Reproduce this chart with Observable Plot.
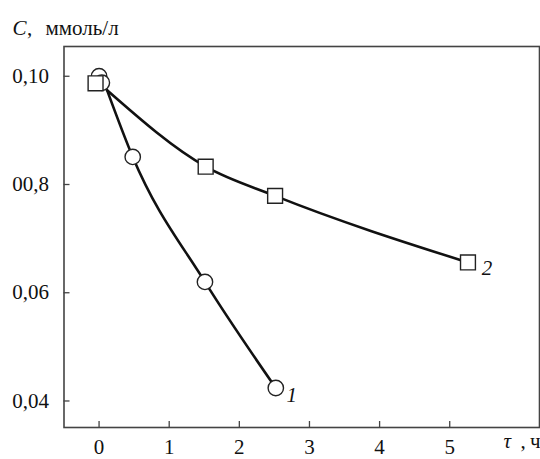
<!DOCTYPE html>
<html>
<head>
<meta charset="utf-8">
<script src="https://cdn.jsdelivr.net/npm/d3@7"></script>
<script src="https://cdn.jsdelivr.net/npm/@observablehq/plot@0.6"></script>
<style>
  html, body { margin: 0; padding: 0; background: #fff; }
  #chart svg { display: block; }
  #chart svg, #chart svg text, #chart svg g {
    font-family: "Liberation Serif", "DejaVu Serif", serif !important;
    font-size: 21px !important;
  }
</style>
</head>
<body>
<div id="chart"></div>
<script>
// Series 1 (circles)
const circleX = [0, 0.04, 0.48, 1.51, 2.52];
const circleY = [0.1000, 0.0988, 0.0851, 0.0620, 0.0424];
// Series 2 (squares)
const squareX = [-0.05, 1.52, 2.51, 5.26];
const squareY = [0.0987, 0.0833, 0.0779, 0.0656];
// Common start point of both curves
const startX = 0.115;
const startY = 0.0974;
// Series labels
const seriesLabels = ["1", "2"];
// Ticks
const xTicks = [0, 1, 2, 3, 4, 5];
const yTicks = [0.04, 0.06, 0.08, 0.10];
const yTickLabels = ["0,04", "0,06", "00,8", "0,10"];

const circles = circleX.map((x, i) => ({x, y: circleY[i]}));
const squares = squareX.map((x, i) => ({x, y: squareY[i]}));
const curve1 = [{x: startX, y: startY}, ...circles.slice(2)];
const curve2 = [{x: startX, y: startY}, ...squares.slice(1)];
const lastCircle = circles[circles.length - 1];
const lastSquare = squares[squares.length - 1];

const FONT = "Liberation Serif, DejaVu Serif, serif";
const FS = 21;
const T = {fontFamily: FONT, fontSize: FS, fill: "#111"};

const chart = Plot.plot({
  width: 540,
  height: 459,
  marginLeft: 63.5,
  marginRight: 1,
  marginTop: 46,
  marginBottom: 32,
  style: {fontFamily: FONT, fontSize: FS + "px", background: "#fff", color: "#111"},
  x: {domain: [-0.5, 6.28]},
  y: {domain: [0.0351, 0.1055]},
  marks: [
    Plot.frame({stroke: "#444", strokeWidth: 1.6}),
    // inward ticks
    Plot.axisX(xTicks, {tickSize: -6, stroke: "#444", strokeWidth: 1.3, tickFormat: () => "", label: null}),
    Plot.axisY(yTicks, {tickSize: -6, stroke: "#444", strokeWidth: 1.3, tickFormat: () => "", label: null}),
    // tick labels
    Plot.axisX(xTicks, {tickSize: 0, tickPadding: 12, tickFormat: d => String(d), label: null, ...T}),
    Plot.axisY(yTicks, {tickSize: 0, tickPadding: 15, label: null, ...T,
      tickFormat: d => yTickLabels[yTicks.findIndex(t => Math.abs(t - d) < 1e-9)]}),
    // curves
    Plot.line(curve1, {x: "x", y: "y", curve: "monotone-x", stroke: "#111", strokeWidth: 2.6}),
    Plot.line(curve2, {x: "x", y: "y", curve: "monotone-x", stroke: "#111", strokeWidth: 2.6}),
    // markers
    Plot.dot(circles, {x: "x", y: "y", r: 7.7, fill: "#fff", stroke: "#222", strokeWidth: 1.4}),
    Plot.dot(squares, {x: "x", y: "y", r: 8.4, symbol: "square", fill: "#fff", stroke: "#222", strokeWidth: 1.4}),
    // series labels
    Plot.text([lastCircle], {x: "x", y: "y", text: () => seriesLabels[0], dx: 16, dy: 7, fontStyle: "italic", ...T}),
    Plot.text([lastSquare], {x: "x", y: "y", text: () => seriesLabels[1], dx: 19, dy: 6, fontStyle: "italic", ...T}),
    // y title
    Plot.text(["C"], {frameAnchor: "top-left", dx: -51.5, dy: -26.7, textAnchor: "start", fontStyle: "italic", ...T}),
    Plot.text([","], {frameAnchor: "top-left", dx: -37, dy: -26.7, textAnchor: "start", ...T}),
    Plot.text(["ммоль/л"], {frameAnchor: "top-left", dx: -18.5, dy: -26.7, textAnchor: "start", ...T}),
    // x title
    Plot.text(["τ"], {frameAnchor: "bottom-right", dx: -36, dy: 20, textAnchor: "start", fontStyle: "italic", ...T}),
    Plot.text([","], {frameAnchor: "bottom-right", dx: -19, dy: 20, textAnchor: "start", ...T}),
    Plot.text(["ч"], {frameAnchor: "bottom-right", dx: -9.5, dy: 20, textAnchor: "start", ...T})
  ]
});
document.getElementById("chart").appendChild(chart);
</script>
</body>
</html>
